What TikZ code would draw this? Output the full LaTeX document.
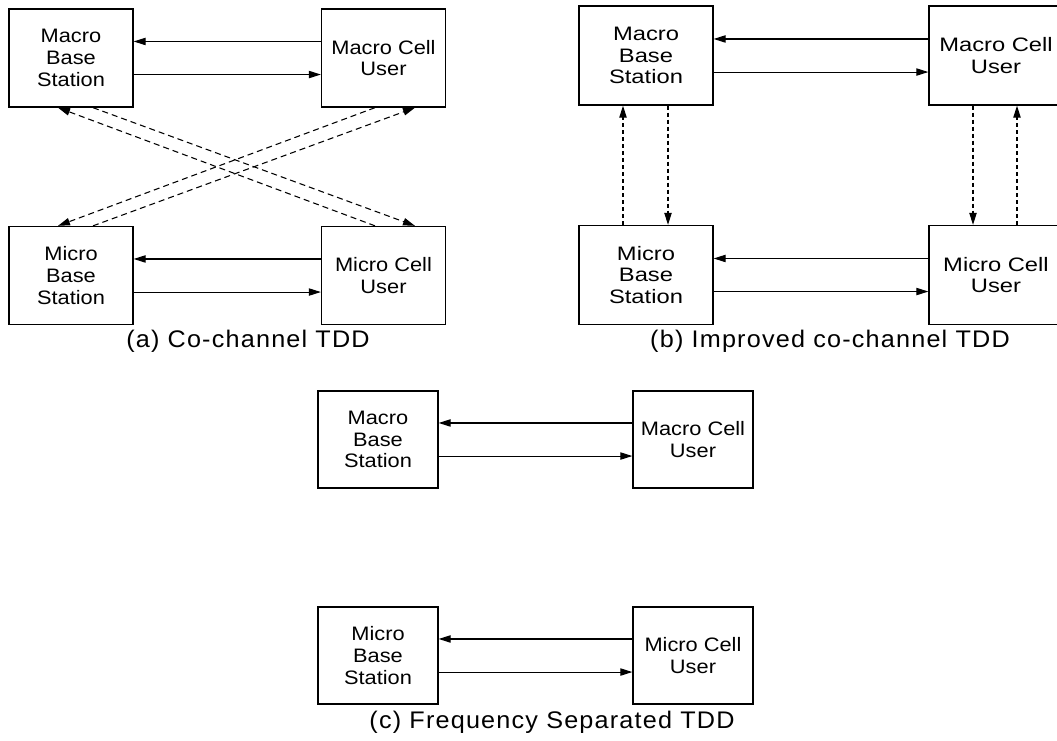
\documentclass[tikz,border=0pt]{standalone}
\usepackage{fontspec}
\setmainfont{Liberation Sans}
\newfontfamily\boxfont[FakeStretch=1.12]{Liberation Sans}
\newfontfamily\wideboxfont[FakeStretch=1.22]{Liberation Sans}
\newfontfamily\capfont[FakeStretch=1.05,LetterSpace=5]{Liberation Sans}
\usetikzlibrary{arrows.meta,calc}

\begin{document}
\begin{tikzpicture}[x=0.75pt,y=-0.75pt,->,>={Triangle[length=9pt,width=5.5pt]},line width=0.8pt]
  \tikzstyle{cellbox}=[rectangle,draw,line width=1pt,inner sep=0pt,align=center,minimum width=93pt,minimum height=73.5pt,font=\fontsize{14.6}{16.3}\boxfont]
  \tikzstyle{wide box}=[cellbox,minimum width=100.5pt,minimum height=74.25pt,font=\fontsize{14.6}{16.3}\wideboxfont]
  \tikzstyle{small box}=[cellbox,minimum width=90pt,minimum height=72.75pt]
  \tikzstyle{caption}=[font=\fontsize{18}{20}\capfont]
  \tikzstyle{long dash}=[dash pattern=on 4.5pt off 3pt]
  \tikzstyle{short dash}=[dash pattern=on 3pt off 2.25pt]

  \useasboundingbox (0,0) rectangle (1057,740);

  % (a) co-channel
  \node[cellbox] (aMaBS) at (71,58)      {Macro\\Base\\Station};
  \node[cellbox] (aMaCU) at (383.5,58)   {Macro Cell\\User};
  \node[cellbox] (aMiBS) at (71,275.5)   {Micro\\Base\\Station};
  \node[cellbox] (aMiCU) at (383.5,275.5) {Micro Cell\\User};
  \node[caption] (capA) at (248,341) {(a) Co-channel TDD};

  \path ([yshift=12.4pt]aMaCU.west) edge ([yshift=12.4pt]aMaBS.east)
  ([yshift=-12.4pt]aMaBS.east) edge ([yshift=-12.4pt]aMaCU.west)
  ([yshift=12.4pt]aMiCU.west) edge ([yshift=12.4pt]aMiBS.east)
  ([yshift=-12.4pt]aMiBS.east) edge ([yshift=-12.4pt]aMiCU.west)
  ($(aMaBS.south)+(22,0)$) edge[long dash] ($(aMiCU.north)+(31.5,0)$)
  ($(aMiCU.north)+(-8.5,0)$) edge[long dash] ($(aMaBS.south)+(-13,0)$)
  ($(aMiBS.north)+(22,0)$) edge[long dash] ($(aMaCU.south)+(31.5,0)$)
  ($(aMaCU.south)+(-8.5,0)$) edge[long dash] ($(aMiBS.north)+(-13,0)$)
  ;

  % (b) improved co-channel
  \node[wide box] (bMaBS) at (646,55.5) {Macro\\Base\\Station};
  \node[wide box] (bMaCU) at (996,55.5) {Macro Cell\\User};
  \node[wide box] (bMiBS) at (646,275)  {Micro\\Base\\Station};
  \node[wide box] (bMiCU) at (996,275)  {Micro Cell\\User};
  \node[caption] (capB) at (830,341) {(b) Improved co-channel TDD};

  \path ([yshift=12.4pt]bMaCU.west) edge ([yshift=12.4pt]bMaBS.east)
  ([yshift=-12.4pt]bMaBS.east) edge ([yshift=-12.4pt]bMaCU.west)
  ([yshift=12.4pt]bMiCU.west) edge ([yshift=12.4pt]bMiBS.east)
  ([yshift=-12.4pt]bMiBS.east) edge ([yshift=-12.4pt]bMiCU.west)
  ($(bMiBS.north)+(-23,0)$) edge[short dash] ($(bMaBS.south)+(-23,0)$)
  ($(bMaBS.south)+(22,0)$) edge[short dash] ($(bMiBS.north)+(22,0)$)
  ($(bMaCU.south)+(-23,0)$) edge[short dash] ($(bMiCU.north)+(-23,0)$)
  ($(bMiCU.north)+(21,0)$) edge[short dash] ($(bMaCU.south)+(21,0)$)
  ;

  % (c) frequency separated
  \node[small box] (cMaBS) at (378,439.5) {Macro\\Base\\Station};
  \node[small box] (cMaCU) at (693,439.5) {Macro Cell\\User};
  \node[small box] (cMiBS) at (378,655.5) {Micro\\Base\\Station};
  \node[small box] (cMiCU) at (693,655.5) {Micro Cell\\User};
  \node[caption] (capC) at (552,722) {(c) Frequency Separated TDD};

  \path ([yshift=12.4pt]cMaCU.west) edge ([yshift=12.4pt]cMaBS.east)
  ([yshift=-12.4pt]cMaBS.east) edge ([yshift=-12.4pt]cMaCU.west)
  ([yshift=12.4pt]cMiCU.west) edge ([yshift=12.4pt]cMiBS.east)
  ([yshift=-12.4pt]cMiBS.east) edge ([yshift=-12.4pt]cMiCU.west)
  ;
\end{tikzpicture}
\end{document}
